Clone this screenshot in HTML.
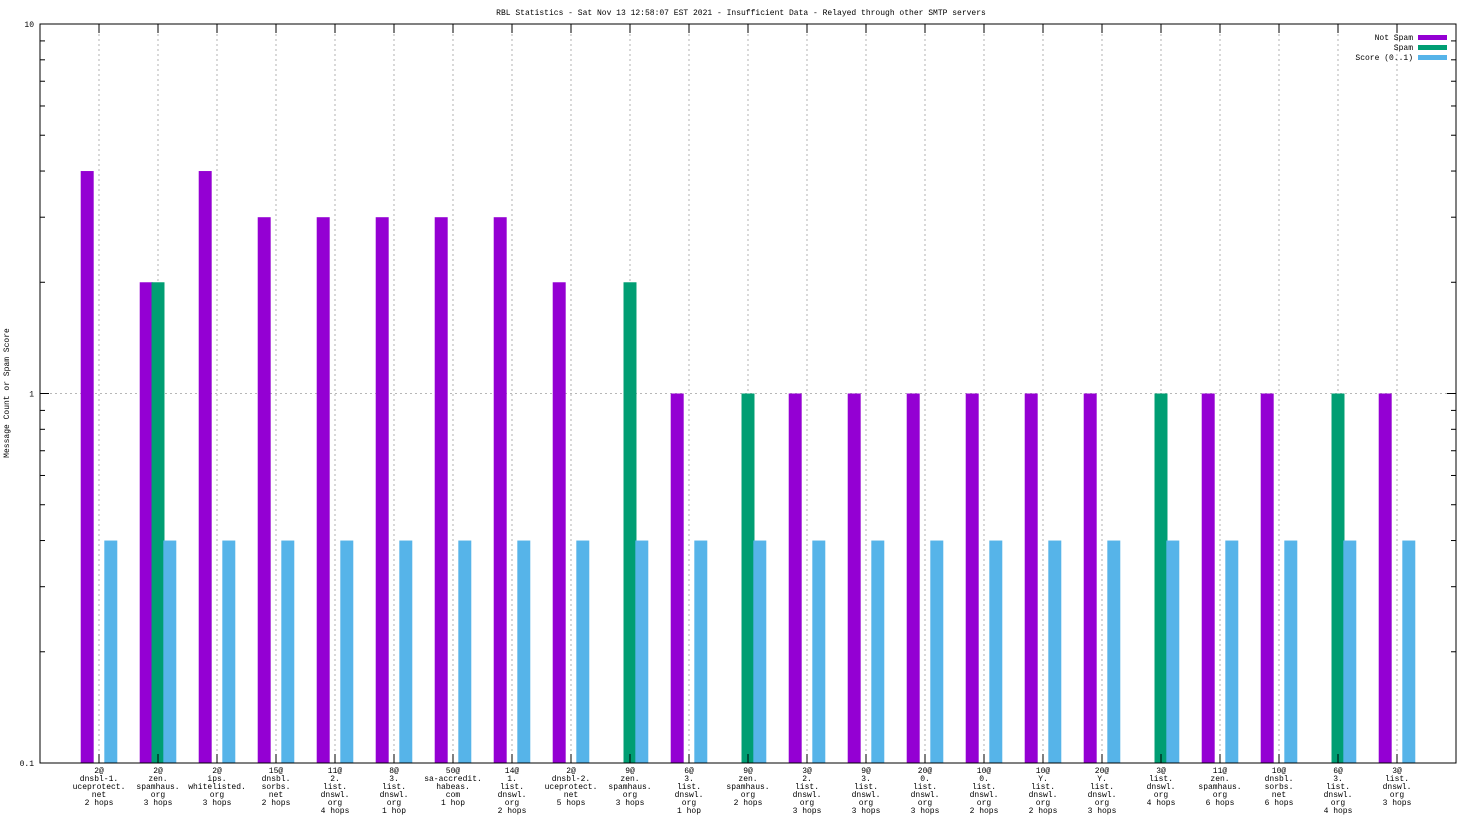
<!DOCTYPE html>
<html><head><meta charset="utf-8"><style>
html,body{margin:0;padding:0;background:#fff}
svg{display:block;font-family:"Liberation Mono",monospace;font-size:8px}
</style></head><body>
<svg id="chart" width="1472" height="828" viewBox="0 0 1472 828">
<rect width="1472" height="828" fill="#fff"/>
<text x="741" y="15" text-anchor="middle">RBL Statistics - Sat Nov 13 12:58:07 EST 2021 - Insufficient Data - Relayed through other SMTP servers</text>
<text transform="translate(9,393) rotate(-90)" text-anchor="middle">Message Count or Spam Score</text>
<g id="grid"></g><g id="bars"></g><g id="axes"></g><g id="legend"></g>
</svg>
<script>
const categories=[
["2@","dnsbl-1.","uceprotect.","net","2 hops"],["2@","zen.","spamhaus.","org","3 hops"],["2@","ips.","whitelisted.","org","3 hops"],["15@","dnsbl.","sorbs.","net","2 hops"],["11@","2.","list.","dnswl.","org","4 hops"],["8@","3.","list.","dnswl.","org","1 hop"],["50@","sa-accredit.","habeas.","com","1 hop"],["14@","1.","list.","dnswl.","org","2 hops"],["2@","dnsbl-2.","uceprotect.","net","5 hops"],["9@","zen.","spamhaus.","org","3 hops"],["6@","3.","list.","dnswl.","org","1 hop"],["9@","zen.","spamhaus.","org","2 hops"],["3@","2.","list.","dnswl.","org","3 hops"],["9@","3.","list.","dnswl.","org","3 hops"],["20@","0.","list.","dnswl.","org","3 hops"],["10@","0.","list.","dnswl.","org","2 hops"],["10@","Y.","list.","dnswl.","org","2 hops"],["20@","Y.","list.","dnswl.","org","3 hops"],["3@","list.","dnswl.","org","4 hops"],["11@","zen.","spamhaus.","org","6 hops"],["10@","dnsbl.","sorbs.","net","6 hops"],["6@","3.","list.","dnswl.","org","4 hops"],["3@","list.","dnswl.","org","3 hops"]];
const notSpam=[4,2,4,3,3,3,3,3,2,0,1,0,1,1,1,1,1,1,0,1,1,0,1];
const spam=[0,2,0,0,0,0,0,0,0,2,0,1,0,0,0,0,0,0,1,0,0,1,0];
const score=[0.4,0.4,0.4,0.4,0.4,0.4,0.4,0.4,0.4,0.4,0.4,0.4,0.4,0.4,0.4,0.4,0.4,0.4,0.4,0.4,0.4,0.4,0.4];
const yTicks=[0.1,1,10];
const yTickLabels=["0.1","1","10"];
const seriesNames=["Not Spam","Spam","Score (0..1)"];

const NS="http://www.w3.org/2000/svg";
const L=40,R=1456,T=24,B=763;
const yMin=0.1,yMax=10;
function X(v){return L+(v+1)*(R-L)/24;}
function Y(v){return B-(Math.log10(v)-Math.log10(yMin))/(Math.log10(yMax)-Math.log10(yMin))*(B-T);}
function mk(tag,attrs,parent){const e=document.createElementNS(NS,tag);for(const k in attrs)e.setAttribute(k,attrs[k]);parent.appendChild(e);return e;}
const grid=document.getElementById('grid'),bars=document.getElementById('bars'),axes=document.getElementById('axes'),legend=document.getElementById('legend');
const colors=["#9400d3","#009e73","#56b4e9"];
// grid
categories.forEach((c,i)=>{const l=mk('line',{x1:X(i),x2:X(i),y1:T,y2:B,stroke:'#a0a0a0','stroke-dasharray':'2,3','stroke-width':0.8},grid);

});
yTicks.forEach((t,i)=>{if(t>yMin&&t<yMax){const l=mk('line',{x1:L,x2:R,y1:Y(t),y2:Y(t),stroke:'#a0a0a0','stroke-dasharray':'2,3','stroke-width':0.8},grid);

}});
// bars
const series=[notSpam,spam,score],offs=[-0.2,0,0.2],bw=0.22;
series.forEach((s,si)=>{s.forEach((v,i)=>{if(v<=yMin)return;const x=X(i+offs[si]-bw/2),w=X(i+offs[si]+bw/2)-x;
const r=mk('rect',{x:x,y:Y(v),width:w,height:B-Y(v),fill:colors[si]},bars);

});});
// axes frame
const fr=mk('rect',{x:L,y:T,width:R-L,height:B-T,fill:'none',stroke:'#000','stroke-width':1},axes);


// y ticks
for(let d=-1;d<1;d++){for(let m=1;m<10;m++){const v=m*Math.pow(10,d);const y=Y(v);const len=m===1?9:5;
mk('line',{x1:L,x2:L+len,y1:y,y2:y,stroke:'#000'},axes);mk('line',{x1:R,x2:R-len,y1:y,y2:y,stroke:'#000'},axes);}}
yTicks.forEach((t,i)=>{const tx=mk('text',{x:L-6,y:Y(t)+3,'text-anchor':'end'},axes);tx.textContent=yTickLabels[i];

});
// x ticks & labels
categories.forEach((c,i)=>{mk('line',{x1:X(i),x2:X(i),y1:B,y2:B-9,stroke:'#000'},axes);mk('line',{x1:X(i),x2:X(i),y1:T,y2:T+9,stroke:'#000'},axes);
const tx=mk('text',{x:X(i),y:B+10,'text-anchor':'middle'},axes);


c.forEach((s,j)=>{const ts=mk('tspan',{x:X(i),dy:j?8:0},tx);ts.textContent=s;});});
// legend
seriesNames.forEach((n,i)=>{const y=37+i*10;const t=mk('text',{x:1413,y:y+3,'text-anchor':'end'},legend);t.textContent=n;


const r=mk('rect',{x:1418,y:y-2,width:29,height:5,fill:colors[i]},legend);

});
</script>
</body></html>
